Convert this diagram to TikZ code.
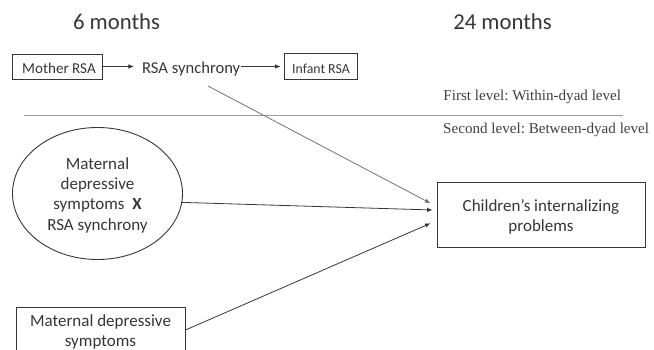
\documentclass[tikz,border=0pt]{standalone}
\usepackage{fontspec}
\setmainfont{Carlito}
\newfontfamily\levelfont{Liberation Serif}
\usetikzlibrary{arrows.meta,shapes.geometric}
\definecolor{ink}{HTML}{363636}
\definecolor{lvl}{HTML}{404040}
\newcommand{\setfs}[1]{\fontsize{#1}{#1}\selectfont}
\frenchspacing
\begin{document}
\begin{tikzpicture}[x=1pt,y=-1pt,
  txt/.style={text=ink, inner sep=0pt, anchor=base},
  head/.style={txt, font=\setfs{22.7}},
  body/.style={txt, font=\setfs{17}},
  lvltxt/.style={text=lvl, inner sep=0pt, anchor=base, font=\levelfont\setfs{15.1}},
  boxn/.style={draw=ink, line width=0.9pt, rectangle, inner sep=0pt},
  arr/.style={-{Latex[length=5.5pt,width=4.5pt]}, line width=0.8pt, draw=ink},
  garr/.style={arr, draw=black!55}
]
\clip (0,0) rectangle (654,350);
\useasboundingbox (0,0) rectangle (654,350);

% headings
\node[head] (h6) at (116.5,29.5) {6 months};
\node[head] (h24) at (502.5,29.5) {24 months};

% first level
\node[boxn, minimum width=90pt, minimum height=25pt] (mother) at (57,66.5) {};
\node[txt, font=\setfs{15.1}] (motherT) at (59,73.3) {Mother RSA};
\node[txt, font=\setfs{16.6}] (sync) at (191.2,73.5) {RSA synchrony};
\node[boxn, minimum width=73pt, minimum height=26pt] (infant) at (320.5,66.5) {};
\node[txt, font=\setfs{13.8}] (infantT) at (321,73.3) {Infant RSA};

\draw[arr] (mother.east) -- ([xshift=-8pt]sync.west |- mother.east);
\draw[arr] ([xshift=0.5pt]sync.east |- mother.east) -- ([xshift=-3pt]infant.west);

% levels
\node[lvltxt] (l1) at (532.3,100.5) {First level: Within-dyad level};
\node[lvltxt, anchor=base west] (l2) at (443,134) {Second level: Between-dyad level};
\coordinate (dl) at (24,115);
\coordinate (dr) at (622,115);
\draw[black!38, line width=0.6pt, dash pattern=on 0.4pt off 0.4pt] (dl) -- (dr);

% ellipse
\node[draw=ink, line width=0.9pt, ellipse, minimum width=170pt, minimum height=132pt, inner sep=0pt] (ell) at (97.5,193.5) {};
\node[body] (e1) at (97.5,169.3) {Maternal};
\node[body] (e2) at (97.5,190) {depressive};
\node[body] (e3) at (97.5,210) {symptoms\ \ \textbf{X}};
\node[body] (e4) at (97.5,230.3) {RSA synchrony};

% maternal box
\node[boxn, minimum width=169pt, minimum height=50pt] (mat) at (100.5,332) {};
\node[body] (m1) at (100.5,326.7) {Maternal depressive};
\node[body] (m2) at (100.5,346.7) {symptoms};

% children box
\node[boxn, minimum width=208pt, minimum height=65pt] (child) at (541,214.5) {};
\node[body] (c1) at (541,211.7) {Children’s internalizing};
\node[body] (c2) at (541,231.7) {problems};

% connectors
\coordinate (s1) at (208,86);
\draw[garr] (s1) -- ([xshift=-6pt,yshift=11.2pt]child.west);
\draw[arr] (ell.-6) -- ([xshift=-4pt,yshift=4.5pt]child.west);
\draw[arr] ([yshift=2pt]mat.east) -- ([xshift=-6pt,yshift=-8.8pt]child.west);
\end{tikzpicture}
\end{document}
